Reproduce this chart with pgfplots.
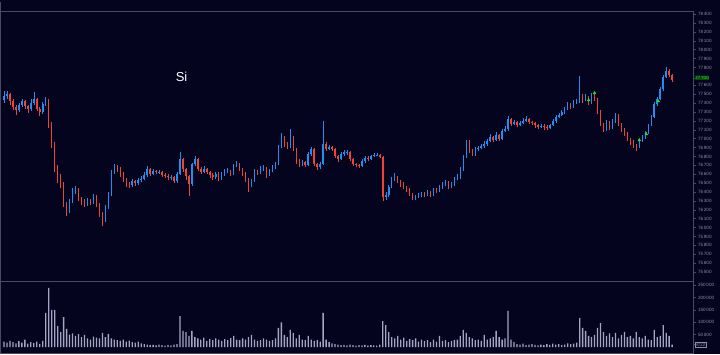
\documentclass[border=0pt]{standalone}
\usepackage{pgfplots}
\pgfplotsset{compat=1.18}
\usepackage{pgfplotstable}
\usepackage{fontspec}
\setmainfont{Liberation Sans}
\definecolor{bg}{HTML}{04041E}
\definecolor{upc}{HTML}{1E90F0}
\definecolor{dnc}{HTML}{EE4438}
\definecolor{volc}{HTML}{A4A4C4}
\definecolor{framec}{HTML}{4A4A66}
\definecolor{lblc}{HTML}{8C8CA6}
\definecolor{grn}{HTML}{22E622}

\pgfplotstableread{
x o h l c v
0 77430 77530 77400 77478 22000
3 77478 77540 77450 77500 18000
6 77500 77510 77380 77422 25000
9 77422 77440 77320 77355 20000
12 77355 77380 77270 77320 15000
15 77320 77400 77300 77377 24000
18 77377 77450 77350 77422 18000
21 77422 77430 77330 77366 30000
24 77366 77380 77290 77332 14000
27 77332 77440 77310 77400 20000
30 77400 77523 77380 77445 16000
33 77445 77460 77310 77332 22000
36 77332 77350 77250 77298 13000
39 77298 77410 77280 77388 25000
42 77388 77470 77370 77445 138000
45 77445 77450 77120 77164 239000
48 77164 77190 76900 76939 150000
51 76939 76960 76620 76658 150000
54 76658 76700 76500 76545 85000
57 76545 76600 76440 76489 61000
60 76489 76510 76230 76264 121000
63 76264 76290 76130 76175 73000
66 76175 76320 76160 76298 50000
69 76298 76440 76280 76410 55000
72 76410 76470 76380 76433 45000
75 76433 76450 76300 76321 52000
78 76321 76340 76250 76287 40000
81 76287 76320 76230 76253 49000
84 76253 76330 76240 76298 35000
87 76298 76320 76250 76276 30000
90 76276 76380 76260 76354 42000
93 76354 76370 76230 76264 38000
96 76264 76280 76120 76152 35000
99 76152 76170 76017 76073 57000
102 76073 76250 76060 76231 40000
105 76231 76400 76210 76377 53000
108 76377 76650 76360 76624 35000
111 76624 76720 76600 76680 30000
114 76680 76700 76620 76658 28000
117 76658 76680 76570 76602 25000
120 76602 76620 76510 76545 30000
123 76545 76560 76460 76489 22000
126 76489 76510 76440 76478 26000
129 76478 76550 76460 76523 20000
132 76523 76540 76470 76500 18000
135 76500 76560 76480 76534 22000
138 76534 76580 76510 76545 15000
141 76545 76620 76530 76590 12000
144 76590 76690 76570 76658 10000
147 76658 76670 76580 76602 8000
150 76602 76660 76590 76635 9000
153 76635 76650 76600 76624 7000
156 76624 76650 76600 76630 10000
159 76630 76640 76570 76590 8000
162 76590 76610 76560 76579 6000
165 76579 76600 76540 76568 9000
168 76568 76590 76540 76572 7000
171 76572 76580 76500 76523 10000
174 76523 76620 76500 76602 12000
177 76602 76849 76590 76770 125000
180 76770 76780 76630 76658 65000
183 76658 76670 76540 76579 60000
186 76579 76590 76355 76489 45000
189 76489 76730 76470 76714 65000
192 76714 76800 76690 76770 40000
195 76770 76780 76640 76658 35000
198 76658 76680 76600 76624 30000
201 76624 76690 76610 76658 38000
204 76658 76670 76600 76624 25000
207 76624 76640 76560 76590 32000
210 76590 76610 76530 76568 28000
213 76568 76630 76550 76602 35000
216 76602 76620 76520 76545 30000
219 76545 76630 76530 76602 25000
222 76602 76660 76580 76635 32000
225 76635 76670 76610 76640 28000
228 76640 76650 76580 76602 36000
231 76602 76720 76590 76692 45000
234 76692 76750 76680 76714 30000
237 76714 76730 76640 76658 28000
240 76658 76670 76580 76602 35000
243 76602 76620 76510 76545 30000
246 76545 76560 76400 76478 40000
249 76478 76550 76460 76523 49000
252 76523 76660 76510 76635 30000
255 76635 76650 76590 76613 25000
258 76613 76690 76600 76658 28000
261 76658 76700 76640 76669 35000
264 76669 76680 76560 76590 30000
267 76590 76660 76580 76635 25000
270 76635 76700 76620 76680 28000
273 76680 76740 76660 76714 35000
276 76714 76930 76700 76905 77000
279 76905 77060 76890 77017 100000
282 77017 77030 76910 76939 49000
285 76939 76960 76880 76905 40000
288 76905 77107 76890 77017 69000
291 77017 77030 76860 76883 57000
294 76883 76900 76720 76748 35000
297 76748 76770 76680 76703 49000
300 76703 76760 76690 76737 30000
303 76737 76750 76680 76703 28000
306 76703 76850 76690 76826 45000
309 76826 76910 76810 76883 30000
312 76883 76890 76690 76714 25000
315 76714 76730 76650 76680 28000
318 76680 76740 76660 76714 22000
321 76714 77197 76700 76939 138000
324 76939 76960 76860 76883 30000
327 76883 76930 76870 76905 20000
330 76905 76920 76860 76883 15000
333 76883 76890 76780 76804 12000
336 76804 76820 76740 76770 10000
339 76770 76850 76760 76826 8000
342 76826 76870 76810 76849 9000
345 76849 76870 76820 76853 7000
348 76853 76860 76750 76770 10000
351 76770 76780 76690 76714 8000
354 76714 76730 76680 76703 6000
357 76703 76720 76670 76692 8000
360 76692 76770 76680 76748 7000
363 76748 76800 76730 76782 9000
366 76782 76800 76750 76770 6000
369 76770 76820 76760 76804 8000
372 76804 76840 76790 76815 7000
375 76815 76840 76800 76820 6000
378 76820 76830 76780 76793 10000
381 76793 76800 76300 76343 105000
384 76343 76400 76310 76365 89000
387 76365 76480 76340 76455 61000
390 76455 76570 76440 76545 40000
393 76545 76610 76520 76568 35000
396 76568 76580 76500 76523 45000
399 76523 76540 76460 76489 30000
402 76489 76510 76430 76455 38000
405 76455 76470 76400 76433 25000
408 76433 76450 76350 76377 32000
411 76377 76390 76310 76343 28000
414 76343 76370 76310 76348 35000
417 76348 76390 76330 76365 22000
420 76365 76400 76340 76377 30000
423 76377 76400 76340 76365 25000
426 76365 76420 76350 76399 28000
429 76399 76410 76340 76365 20000
432 76365 76440 76350 76422 30000
435 76422 76440 76390 76410 22000
438 76410 76480 76400 76455 45000
441 76455 76510 76430 76489 25000
444 76489 76540 76470 76511 28000
447 76511 76520 76430 76455 20000
450 76455 76510 76440 76489 25000
453 76489 76570 76470 76545 28000
456 76545 76600 76530 76568 30000
459 76568 76680 76550 76658 45000
462 76658 76820 76640 76793 69000
465 76793 76990 76780 76962 57000
468 76962 76980 76840 76860 40000
471 76860 76880 76800 76826 35000
474 76826 76910 76810 76883 28000
477 76883 76920 76860 76894 30000
480 76894 76940 76880 76916 25000
483 76916 76970 76900 76939 49000
486 76939 77000 76920 76973 30000
489 76973 77050 76960 77017 35000
492 77017 77030 76960 76984 40000
495 76984 77070 76970 77040 65000
498 77040 77050 76970 76995 40000
501 76995 77110 76980 77085 30000
504 77085 77140 77070 77107 35000
507 77107 77253 77090 77220 146000
510 77220 77230 77140 77164 30000
513 77164 77210 77150 77186 20000
516 77186 77200 77130 77152 12000
519 77152 77200 77140 77175 10000
522 77175 77230 77160 77197 14000
525 77197 77250 77190 77220 8000
528 77220 77230 77170 77186 10000
531 77186 77200 77150 77175 12000
534 77175 77190 77120 77152 9000
537 77152 77160 77110 77130 7000
540 77130 77160 77120 77141 10000
543 77141 77160 77100 77130 8000
546 77130 77150 77100 77119 12000
549 77119 77170 77110 77152 9000
552 77152 77220 77140 77197 14000
555 77197 77270 77180 77242 10000
558 77242 77290 77230 77265 12000
561 77265 77320 77250 77298 8000
564 77298 77360 77280 77332 10000
567 77332 77410 77320 77388 15000
570 77388 77400 77330 77355 12000
573 77355 77430 77340 77400 14000
576 77400 77450 77390 77422 18000
579 77422 77703 77400 77467 117000
582 77467 77500 77400 77434 77000
585 77434 77500 77420 77467 65000
588 77467 77480 77380 77400 45000
591 77400 77510 77390 77478 40000
594 77478 77500 77420 77445 49000
597 77445 77460 77280 77310 77000
600 77310 77320 77140 77164 97000
603 77164 77180 77080 77107 60000
606 77107 77210 77090 77186 45000
609 77186 77200 77100 77130 55000
612 77130 77220 77110 77197 40000
615 77197 77290 77180 77265 57000
618 77265 77280 77140 77164 35000
621 77164 77180 77080 77107 49000
624 77107 77120 77030 77062 61000
627 77062 77080 76970 76995 40000
630 76995 77010 76930 76962 45000
633 76962 76980 76900 76928 35000
636 76928 76940 76860 76905 61000
639 76905 76990 76890 76973 40000
642 76973 77040 76960 77017 35000
645 77017 77090 77000 77062 45000
648 77062 77170 77050 77152 30000
651 77152 77260 77140 77242 28000
654 77242 77410 77230 77388 69000
657 77388 77470 77370 77445 40000
660 77445 77580 77430 77557 45000
663 77557 77720 77540 77692 89000
666 77692 77804 77680 77760 57000
669 77760 77780 77690 77715 45000
672 77715 77730 77640 77658 9722
}\candles

\pgfplotsset{
  panel/.style={
    scale only axis, width=693pt, xmin=-4, xmax=693,
    axis line style={framec, line width=0.6pt},
    xtick=\empty, ytick pos=right, yticklabel pos=right,
    scaled y ticks=false,
    major tick length=2.5pt,
    tick style={framec, line width=0.4pt},
    tick align=outside,
    yticklabel style={font=\fontsize{4.6}{5}\selectfont, text=lblc, xshift=-1pt,
      /pgf/number format/1000 sep={\,}, /pgf/number format/fixed,
      /pgf/number format/assume math mode=true},
  },
  wick/.style={only marks, mark=*, mark size=0.01pt,
    mark options={draw opacity=0, fill opacity=0}, forget plot,
    error bars/y dir=plus, error bars/y explicit,
    error bars/error bar style={draw=#1, line width=0.55pt}, error bars/error mark=none},
  body/.style={only marks, mark=*, mark size=0.01pt,
    mark options={draw opacity=0, fill opacity=0}, forget plot,
    error bars/y dir=plus, error bars/y explicit,
    error bars/error bar style={draw=#1, line width=1.5pt}, error bars/error mark=none},
}

\begin{document}
\begin{tikzpicture}[x=1pt,y=1pt]
\fill[bg] (0,0) rectangle (720,354);
\draw[framec, line width=0.6pt] (0,352) -- (0,82);

\begin{axis}[panel, at={(0,82)}, anchor=south west, height=270pt,
  ymin=75399, ymax=78434,
  ytick={75500,75600,75700,75800,75900,76000,76100,76200,76300,76400,76500,76600,76700,76800,76900,77000,77100,77200,77300,77400,77500,77600,77800,77900,78000,78100,78200,78300,78400},
  extra y ticks={77680},
  extra y tick labels={77\,700},
  extra y tick style={yticklabel style={text=grn, fill=grn!30!black, inner sep=0.6pt}},
]
% wicks
\addplot[x filter/.expression={\thisrow{c}>=\thisrow{o} ? x : nan}, wick=upc]
  table[x=x, y=l, y error plus expr={\thisrow{h}-\thisrow{l}}] {\candles};
\addplot[x filter/.expression={\thisrow{c}<\thisrow{o} ? x : nan}, wick=dnc]
  table[x=x, y=l, y error plus expr={\thisrow{h}-\thisrow{l}}] {\candles};
% bodies
\addplot[x filter/.expression={\thisrow{c}>=\thisrow{o} ? x : nan}, body=upc]
  table[x=x, y=o, y error plus expr={max(\thisrow{c}-\thisrow{o},6)}] {\candles};
\addplot[x filter/.expression={\thisrow{c}<\thisrow{o} ? x : nan}, body=dnc]
  table[x=x, y=c, y error plus expr={\thisrow{o}-\thisrow{c}}] {\candles};
% trade markers
\addplot[only marks, mark=triangle*, mark size=1.6pt, grn, forget plot]
  coordinates {(588,77433) (594,77512) (639,76984) (646,77051) (658,77422)};
\node[text=white, font=\fontsize{13}{14}\selectfont, anchor=center]
  at (rel axis cs:0.262,0.755) {Si};
\end{axis}

\begin{axis}[panel, at={(0,4)}, anchor=south west, height=72pt,
  ymin=-24300, ymax=267200,
  ytick={50000,100000,150000,200000,250000},
  extra y ticks={9722},
  extra y tick labels={9722},
  extra y tick style={yticklabel style={draw=lblc, line width=0.3pt, inner sep=0.6pt}},
]
\addplot[ybar, bar width=1.3pt, fill=volc, draw=none, bar shift=0pt]
  table[x=x, y=v] {\candles};
\end{axis}
\pgfresetboundingbox
\useasboundingbox (0,0) rectangle (720,354);
\end{tikzpicture}
\end{document}
